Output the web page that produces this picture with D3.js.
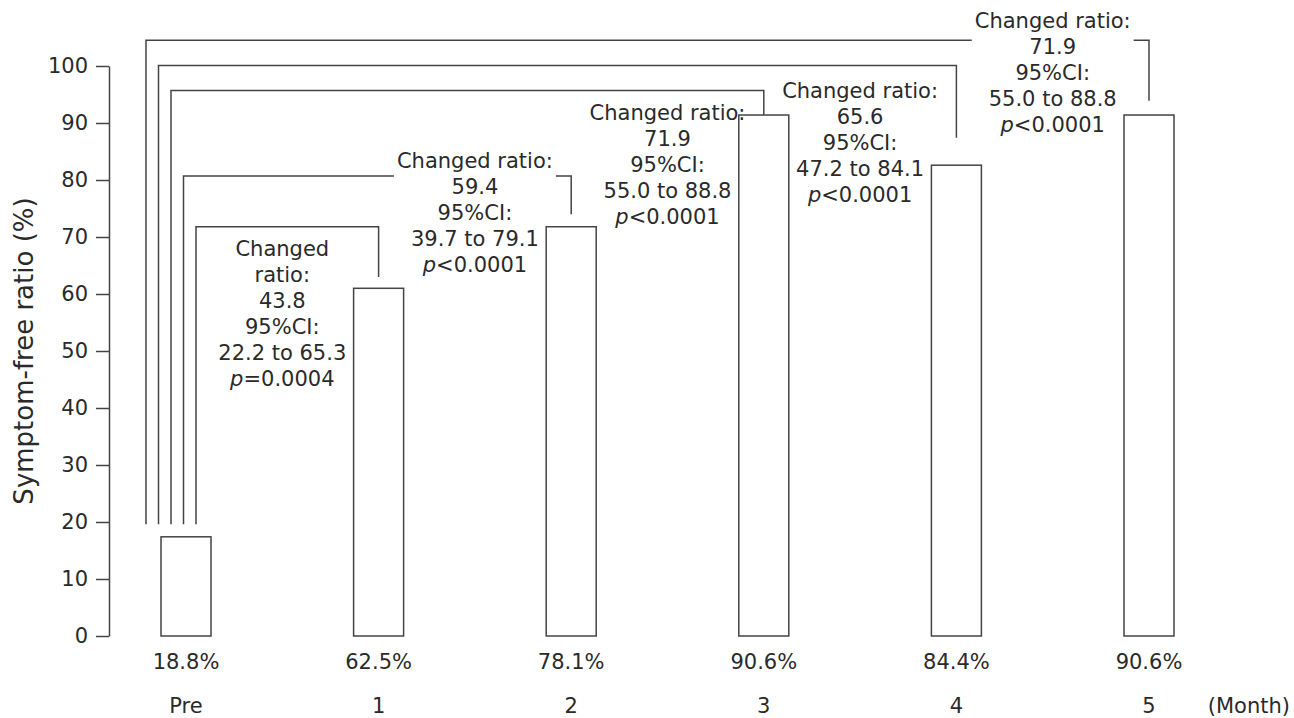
<!DOCTYPE html>
<html>
<head>
<meta charset="utf-8">
<script src="https://cdn.jsdelivr.net/npm/d3@7"></script>
<style>
  html, body { margin: 0; padding: 0; background: #fff; }
  svg { display: block; }
  text { font-family: Verdana, "DejaVu Sans", sans-serif; fill: #2a2a2a; }
</style>
</head>
<body>
<svg id="chart" width="1294" height="718"></svg>
<script>
// ---- data ----
const categories = ["Pre", "1", "2", "3", "4", "5"];
const barValues = [17.4, 61.0, 71.8, 91.4, 82.6, 91.4];
const valueLabels = ["18.8%", "62.5%", "78.1%", "90.6%", "84.4%", "90.6%"];
const yTicks = [0, 10, 20, 30, 40, 50, 60, 70, 80, 90, 100];
const yTitle = "Symptom-free ratio (%)";
const xUnit = "(Month)";

// comparison brackets: Pre vs month n (levels in % units)
const bracketTargets = ["1", "2", "3", "4", "5"];
const bracketBase = [19.6, 19.6, 19.6, 19.6, 19.6];
const bracketTop = [71.8, 80.7, 95.7, 100.1, 104.5];
const bracketEnd = [63.0, 74.0, 91.4, 87.4, 93.9];
const noteTopLine = [67.9, 83.4, 91.8, 95.6, 107.9];
const noteChanged = ["43.8", "59.4", "71.9", "65.6", "71.9"];
const noteCI = ["22.2 to 65.3", "39.7 to 79.1", "55.0 to 88.8", "47.2 to 84.1", "55.0 to 88.8"];
const noteP = ["=0.0004", "<0.0001", "<0.0001", "<0.0001", "<0.0001"];
const noteSplitTitle = [true, false, false, false, false];

// ---- layout ----
const svg = d3.select("#chart");
const FONT = 21;
const TITLE_FONT = 26;
const LINE_H = 26;
const barW = 50;
const stroke = "#444";

const y = d3.scaleLinear().domain([0, 100]).range([636, 66]);
const x = d3.scalePoint().domain(categories).range([186, 1149]);

// y axis
const yAxis = d3.axisLeft(y).tickValues(yTicks).tickSize(13).tickSizeOuter(0).tickPadding(8);
const gY = svg.append("g").attr("transform", "translate(109,0)").call(yAxis);
gY.selectAll("path, line").attr("stroke", stroke).attr("stroke-width", 1.5);
gY.selectAll("text").attr("font-size", FONT).attr("fill", "#2a2a2a")
  .style("font-family", 'Verdana, "DejaVu Sans", sans-serif');

svg.append("text")
  .attr("transform", `translate(24,${(y(0) + y(100)) / 2}) rotate(-90)`)
  .attr("text-anchor", "middle")
  .attr("dy", "0.35em")
  .attr("font-size", TITLE_FONT)
  .text(yTitle);

// bars
svg.append("g").selectAll("rect").data(categories).join("rect")
  .attr("x", d => x(d) - barW / 2)
  .attr("y", (d, i) => y(barValues[i]))
  .attr("width", barW)
  .attr("height", (d, i) => y(0) - y(barValues[i]))
  .attr("fill", "#fff")
  .attr("stroke", stroke)
  .attr("stroke-width", 1.5);

// value labels
svg.append("g").selectAll("text").data(categories).join("text")
  .attr("x", d => x(d))
  .attr("y", 662)
  .attr("dy", "0.35em")
  .attr("text-anchor", "middle")
  .attr("font-size", FONT)
  .text((d, i) => valueLabels[i]);

// category labels
svg.append("g").selectAll("text").data(categories).join("text")
  .attr("x", d => x(d))
  .attr("y", 706)
  .attr("dy", "0.35em")
  .attr("text-anchor", "middle")
  .attr("font-size", FONT)
  .text(d => d);

svg.append("text").attr("x", 1290).attr("y", 706).attr("dy", "0.35em")
  .attr("text-anchor", "end").attr("font-size", FONT).text(xUnit);

// brackets + notes
const leftX0 = 146, leftStep = 12.5;
const nB = bracketTargets.length;
bracketTargets.forEach((t, i) => {
  const lx = leftX0 + (nB - 1 - i) * leftStep;
  const rx = x(t);
  const topY = y(bracketTop[i]);
  const idx = categories.indexOf(t);
  const cx = ((x(categories[idx - 1]) + barW / 2) + (x(t) - barW / 2)) / 2;

  const lines = [];
  if (noteSplitTitle[i]) { lines.push("Changed"); lines.push("ratio:"); }
  else lines.push("Changed ratio:");
  lines.push(noteChanged[i]);
  lines.push("95%CI:");
  lines.push(noteCI[i]);
  lines.push("p");
  const g = svg.append("g");
  const firstY = y(noteTopLine[i]);
  const texts = g.selectAll("text").data(lines).join("text")
    .attr("x", cx)
    .attr("y", (d, j) => firstY + j * LINE_H)
    .attr("dy", "0.35em")
    .attr("text-anchor", "middle")
    .attr("font-size", FONT);
  texts.each(function (d, j) {
    const el = d3.select(this);
    if (j === lines.length - 1) {
      el.append("tspan").attr("font-style", "italic").text("p");
      el.append("tspan").text(noteP[i]);
    } else el.text(d);
  });

  // gap in the horizontal line where it crosses the note block
  const boxes = texts.nodes().map(n => n.getBBox());
  const blockTop = boxes[0].y, blockBot = boxes[boxes.length - 1].y + boxes[boxes.length - 1].height;
  const left = d3.min(boxes, b => b.x), right = d3.max(boxes, b => b.x + b.width);
  let path;
  if (topY > blockTop && topY < blockBot) {
    path = `M${lx},${y(bracketBase[i])}V${topY}H${left - 3}M${right + 3},${topY}H${rx}V${y(bracketEnd[i])}`;
  } else {
    path = `M${lx},${y(bracketBase[i])}V${topY}H${rx}V${y(bracketEnd[i])}`;
  }
  svg.append("path").attr("d", path).attr("fill", "none")
    .attr("stroke", stroke).attr("stroke-width", 1.5);
});
</script>
</body>
</html>
